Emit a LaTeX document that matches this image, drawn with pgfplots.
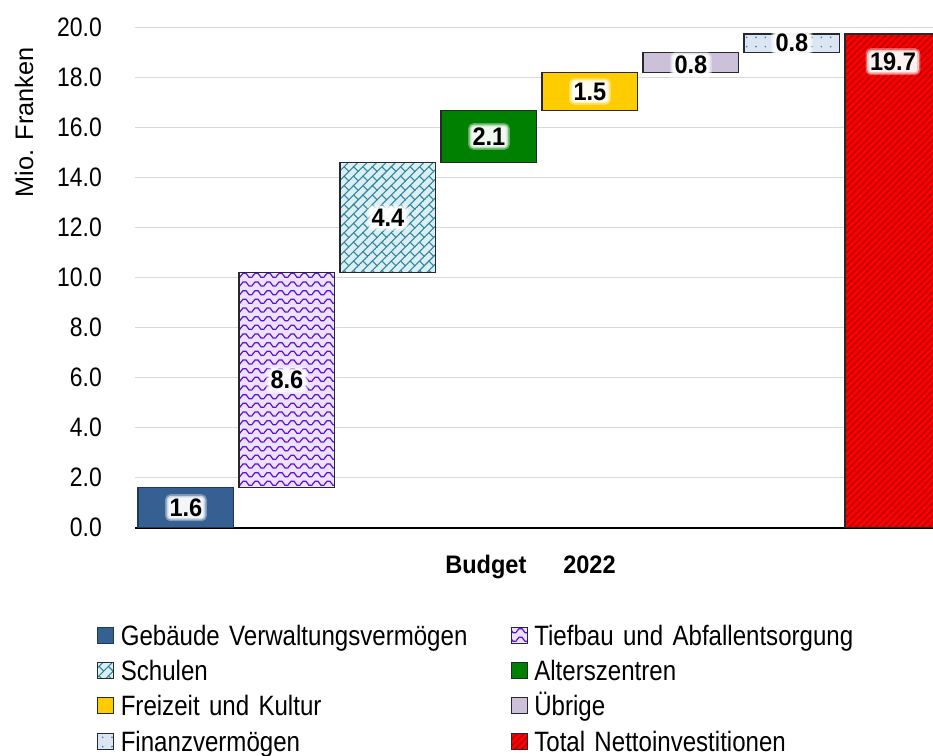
\documentclass[border=0pt]{standalone}
\usepackage{fontspec}
\setmainfont{Liberation Sans}[FakeStretch=0.86,WordSpace=0.75,BoldFeatures={FakeStretch=0.93}]
\newfontfamily\ylfont{Liberation Sans}
\usepackage{pgfplots}
\pgfplotsset{compat=1.18}
\usepackage{pgfplotstable}
\usetikzlibrary{patterns,patterns.meta}

\definecolor{cGeb}{RGB}{54,96,146}
\definecolor{cGebB}{RGB}{31,56,90}
\definecolor{cTiefBg}{RGB}{236,226,255}
\definecolor{cTiefFg}{RGB}{96,16,200}
\definecolor{cSchBg}{RGB}{218,238,243}
\definecolor{cSchFg}{RGB}{49,133,156}
\definecolor{cAlt}{RGB}{0,128,0}
\definecolor{cFrei}{RGB}{255,204,0}
\definecolor{cUeb}{RGB}{204,192,218}
\definecolor{cFinBg}{RGB}{220,230,242}
\definecolor{cFinFg}{RGB}{79,129,189}
\definecolor{cTot}{RGB}{255,0,0}
\definecolor{cTotFg}{RGB}{192,0,0}
\definecolor{cGrid}{RGB}{217,217,217}
\definecolor{cEdge}{RGB}{40,40,40}

\pgfdeclarelayer{halo}
\pgfdeclarelayer{fg}
\pgfsetlayers{main,halo,fg}

\tikzdeclarepattern{
  name=waves, type=uncolored,
  bounding box={(0pt,-0.5pt) and (9pt,7pt)},
  tile size={(9pt,6.5pt)},
  code={\draw[line width=0.9pt] (-0.2pt,1.5pt) -- (2.25pt,4.5pt) -- (4.5pt,4.5pt) -- (6.75pt,1.5pt) -- (9.2pt,1.5pt);}
}
\tikzdeclarepattern{
  name=shingle, type=uncolored,
  bounding box={(-0.5pt,-0.5pt) and (10.5pt,10.5pt)},
  tile size={(10pt,10pt)},
  tile transformation={rotate=45},
  code={\draw[line width=0.8pt] (-0.5pt,0pt)--(10.5pt,0pt) (-0.5pt,5pt)--(10.5pt,5pt) (0pt,0pt)--(0pt,5pt) (5pt,5pt)--(5pt,10pt);}
}

\pgfplotstableread{
x base geb tief sch alt frei ueb fin tot
0 0    1.6 0   0   0   0   0   0    0
1 1.6  0   8.6 0   0   0   0   0    0
2 10.2 0   0   4.4 0   0   0   0    0
3 14.6 0   0   0   2.1 0   0   0    0
4 16.7 0   0   0   0   1.5 0   0    0
5 18.2 0   0   0   0   0   0.8 0    0
6 19.0 0   0   0   0   0   0   0.75 0
7 0    0   0   0   0   0   0   0    19.75
}\data

\tikzset{lbl/.style={font=\bfseries\fontsize{19pt}{22pt}\selectfont, inner sep=0pt}}

\begin{document}
\begin{tikzpicture}[x=0.75pt,y=0.75pt]
\begin{axis}[
  at={(101.6pt,171.2pt)}, anchor=south west,
  scale only axis, width=606pt, height=375pt,
  ybar stacked, bar width=0.95,
  xmin=-0.5, xmax=7.5, ymin=0, ymax=20,
  enlargelimits=false,
  axis x line*=bottom, axis y line*=left,
  y axis line style={draw=none},
  x axis line style={-, black, line width=1.6pt},
  xtick=\empty,
  ytick={0,2,...,20},
  major tick length=0pt,
  ymajorgrids, major grid style={cGrid, line width=1.1pt},
  yticklabel style={font=\fontsize{20pt}{24pt}\selectfont, anchor=east, inner sep=0pt, xshift=-25pt},
  /pgf/number format/.cd, fixed, fixed zerofill, precision=1, assume math mode=true,
  /pgfplots/.cd,
  every axis plot post/.append style={
    legend image code/.code={\draw[##1] (0pt,-4.2pt) rectangle (12pt,7.8pt); \pgfpathmoveto{\pgfqpoint{17.25pt}{0pt}}\pgfusepath{discard}}
  },
  legend columns=2,
  legend cell align=left,
  legend style={
    at={(axis description cs:-0.0473,-0.1932)}, anchor=north west,
    draw=none, fill=none, inner sep=0pt, outer sep=0pt,
    column sep=0pt, row sep=6.5pt,
    font=\fontsize{21pt}{24pt}\selectfont,
    nodes={inner sep=0pt, text height=15.5pt, text depth=4.5pt, text width=292.5pt, align=left}
  },
]
\addplot[draw=none, fill=none, forget plot] table[x=x,y=base] {\data};
\addplot[fill=cGeb, draw=cGebB, line width=0.8pt] table[x=x,y=geb] {\data};
\addlegendentry{Gebäude Verwaltungsvermögen}
\addplot[fill=cTiefBg, draw=cEdge, line width=0.8pt, postaction={pattern=waves, pattern color=cTiefFg}] table[x=x,y=tief] {\data};
\addlegendentry{Tiefbau und Abfallentsorgung}
\addplot[fill=cSchBg, draw=cEdge, line width=0.8pt, postaction={pattern=shingle, pattern color=cSchFg}] table[x=x,y=sch] {\data};
\addlegendentry{Schulen}
\addplot[fill=cAlt, draw=cEdge, line width=0.8pt] table[x=x,y=alt] {\data};
\addlegendentry{Alterszentren}
\addplot[fill=cFrei, draw=cEdge, line width=0.8pt] table[x=x,y=frei] {\data};
\addlegendentry{Freizeit und Kultur}
\addplot[fill=cUeb, draw=cEdge, line width=0.8pt] table[x=x,y=ueb] {\data};
\addlegendentry{Übrige}
\addplot[fill=cFinBg, draw=cEdge, line width=0.8pt, postaction={pattern={Dots[distance=7pt, radius=0.7pt]}, pattern color=cFinFg}] table[x=x,y=fin] {\data};
\addlegendentry{Finanzvermögen}
\addplot[fill=cTot, draw=cEdge, line width=0.8pt, postaction={pattern={Lines[angle=45, distance=3.5pt, line width=1.3pt]}, pattern color=cTotFg}] table[x=x,y=tot] {\data};
\addlegendentry{Total Nettoinvestitionen}

\coordinate (l0) at (axis cs:0,0.8);
\coordinate (l1) at (axis cs:1,5.9);
\coordinate (l2) at (axis cs:2,12.4);
\coordinate (l3) at (axis cs:3,15.65);
\coordinate (l4) at (axis cs:4,17.45);
\coordinate (l5) at (axis cs:5,18.5);
\coordinate (l6) at (axis cs:6,19.39);
\coordinate (l7) at (axis cs:7,18.64);
\end{axis}

\foreach \p/\t [count=\i] in {l0/1.6,l1/8.6,l2/4.4,l3/2.1,l4/1.5,l5/0.8,l6/0.8,l7/19.7}{
  \begin{pgfonlayer}{fg}
    \node[lbl] (t\i) at (\p) {\t};
  \end{pgfonlayer}
  \begin{pgfonlayer}{halo}
    \fill[white, opacity=0.35, rounded corners=4pt] ([shift={(-3.2pt,-3.2pt)}]t\i.south west) rectangle ([shift={(3.2pt,3.2pt)}]t\i.north east);
    \fill[white, opacity=0.6, rounded corners=3pt] ([shift={(-2pt,-2pt)}]t\i.south west) rectangle ([shift={(2pt,2pt)}]t\i.north east);
    \fill[white, opacity=0.8, rounded corners=2pt] ([shift={(-0.8pt,-0.8pt)}]t\i.south west) rectangle ([shift={(0.8pt,0.8pt)}]t\i.north east);
  \end{pgfonlayer}
}

\node[font=\bfseries\fontsize{19pt}{22pt}\selectfont, anchor=base west, inner sep=0pt] at (445,182.7) {Budget};
\node[font=\bfseries\fontsize{19pt}{22pt}\selectfont, anchor=base west, inner sep=0pt] at (563,182.7) {2022};
\node[font=\ylfont\fontsize{19pt}{22pt}\selectfont, rotate=90, anchor=base, inner sep=0pt] at (33,633.5) {Mio. Franken};

\pgfresetboundingbox
\useasboundingbox (0,0) rectangle (933,756);
\end{tikzpicture}
\end{document}
